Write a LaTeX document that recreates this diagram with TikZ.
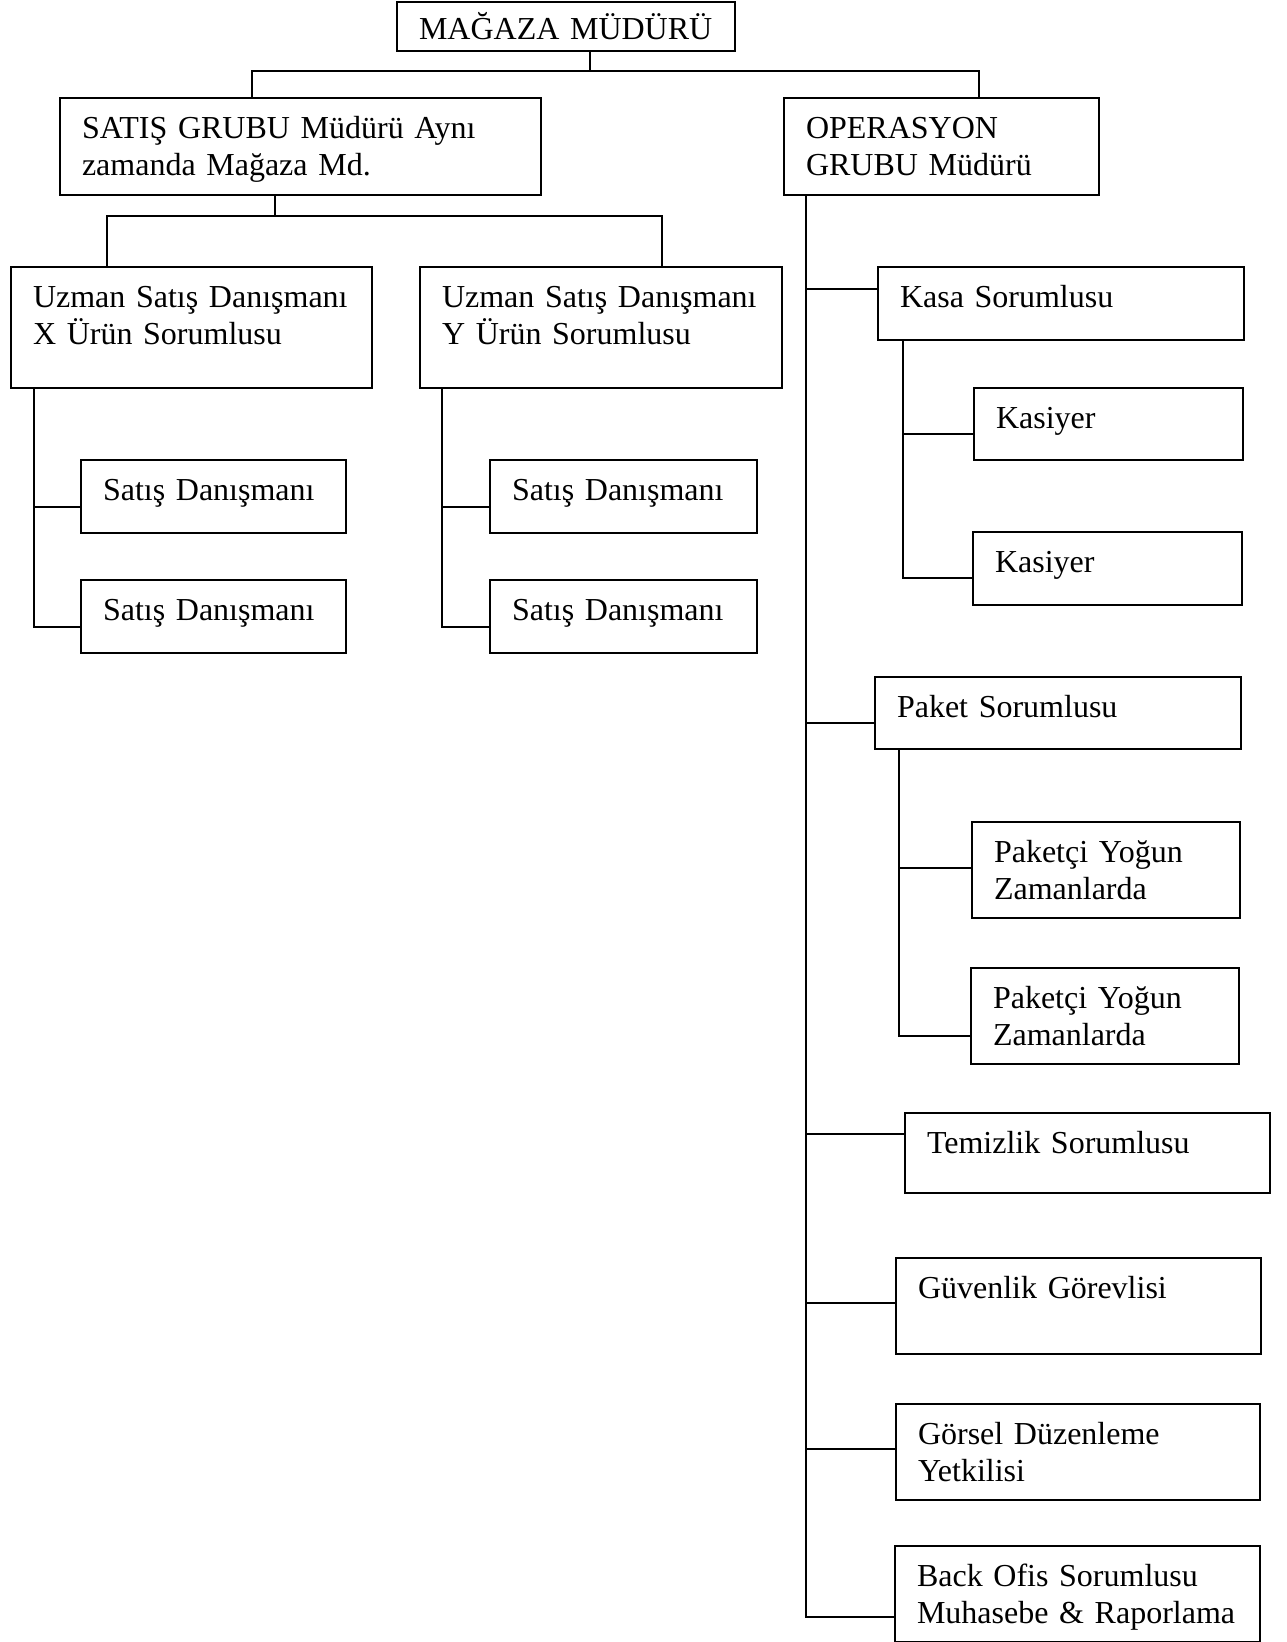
\documentclass[tikz,border=0pt]{standalone}
\usepackage{fontspec}
\setmainfont{Liberation Serif}
\begin{document}
\begin{tikzpicture}[
            x=1pt, y=-1pt,
            font=\fontsize{32}{37}\selectfont,
            line width=2.2pt,
            box/.style 2 args={draw, rectangle, anchor=north west, align=left, outer sep=0pt,
                inner xsep=22pt, inner ysep=0pt, text height=40pt,
                text width=#1, text depth=#2},
            link/.style={draw, line width=2pt}
        ]
		\useasboundingbox (0,0) rectangle (1287,1642);
		\coordinate (j0) at (590,71);
		\coordinate (j1) at (275,216);
		
		%Top
		\node[box={294pt}{12pt}, text height=37pt] (mgr) at (397,2) {MAĞAZA MÜDÜRÜ};
		\node[box={437pt}{57pt}] (satis) at (60,98) {SATIŞ GRUBU Müdürü Aynı\\zamanda Mağaza Md.};
		\node[box={271pt}{57pt}] (oper) at (784,98) {OPERASYON\\GRUBU Müdürü};
		
		%Sales side
		\node[box={317pt}{81pt}] (uzx) at (11,267) {Uzman Satış Danışmanı\\X Ürün Sorumlusu};
		\node[box={318pt}{81pt}] (uzy) at (420,267) {Uzman Satış Danışmanı\\Y Ürün Sorumlusu};
		\node[box={221pt}{33pt}] (sdx1) at (81,460) {Satış Danışmanı};
		\node[box={221pt}{33pt}] (sdx2) at (81,580) {Satış Danışmanı};
		\node[box={223pt}{33pt}] (sdy1) at (490,460) {Satış Danışmanı};
		\node[box={223pt}{33pt}] (sdy2) at (490,580) {Satış Danışmanı};
		
		%Operations side
		\node[box={322pt}{33pt}] (kasa) at (878,267) {Kasa Sorumlusu};
		\node[box={225pt}{32pt}] (kas1) at (974,388) {Kasiyer};
		\node[box={225pt}{33pt}] (kas2) at (973,532) {Kasiyer};
		\node[box={322pt}{32pt}] (paket) at (875,677) {Paket Sorumlusu};
		\node[box={224pt}{56pt}] (pk1) at (972,822) {Paketçi Yoğun\\Zamanlarda};
		\node[box={224pt}{56pt}] (pk2) at (971,968) {Paketçi Yoğun\\Zamanlarda};
		\node[box={321pt}{40pt}] (temiz) at (905,1113) {Temizlik Sorumlusu};
		\node[box={321pt}{56pt}] (guv) at (896,1258) {Güvenlik Görevlisi};
		\node[box={320pt}{56pt}] (gor) at (896,1404) {Görsel Düzenleme\\Yetkilisi};
		\node[box={321pt}{56pt}] (back) at (895,1546) {Back Ofis Sorumlusu\\Muhasebe \& Raporlama};
		
		%Links
		\draw[link] (mgr.south -| j0) -- (j0);
		\draw[link] ([xshift=192pt]satis.north west) |- (j0) -| ([xshift=195pt]oper.north west);
		\draw[link] (satis.south -| j1) -- (j1);
		\draw[link] ([xshift=96pt]uzx.north west) |- (j1) -| ([xshift=242pt]uzy.north west);
		\foreach \c in {sdx1,sdx2}
			\draw[link] ([xshift=23pt]uzx.south west) |- ([yshift=-10pt]\c.west);
		\foreach \c in {sdy1,sdy2}
			\draw[link] ([xshift=22pt]uzy.south west) |- ([yshift=-10pt]\c.west);
		\foreach \c/\d in {kasa/15,paket/-10,temiz/19,guv/3,gor/3,back/-23}
			\draw[link] ([xshift=22pt]oper.south west) |- ([yshift=\d pt]\c.west);
		\foreach \c/\d in {kas1/-10,kas2/-9}
			\draw[link] ([xshift=25pt]kasa.south west) |- ([yshift=\d pt]\c.west);
		\foreach \c/\d in {pk1/2,pk2/-20}
			\draw[link] ([xshift=24pt]paket.south west) |- ([yshift=\d pt]\c.west);
    \end{tikzpicture}
\end{document}
